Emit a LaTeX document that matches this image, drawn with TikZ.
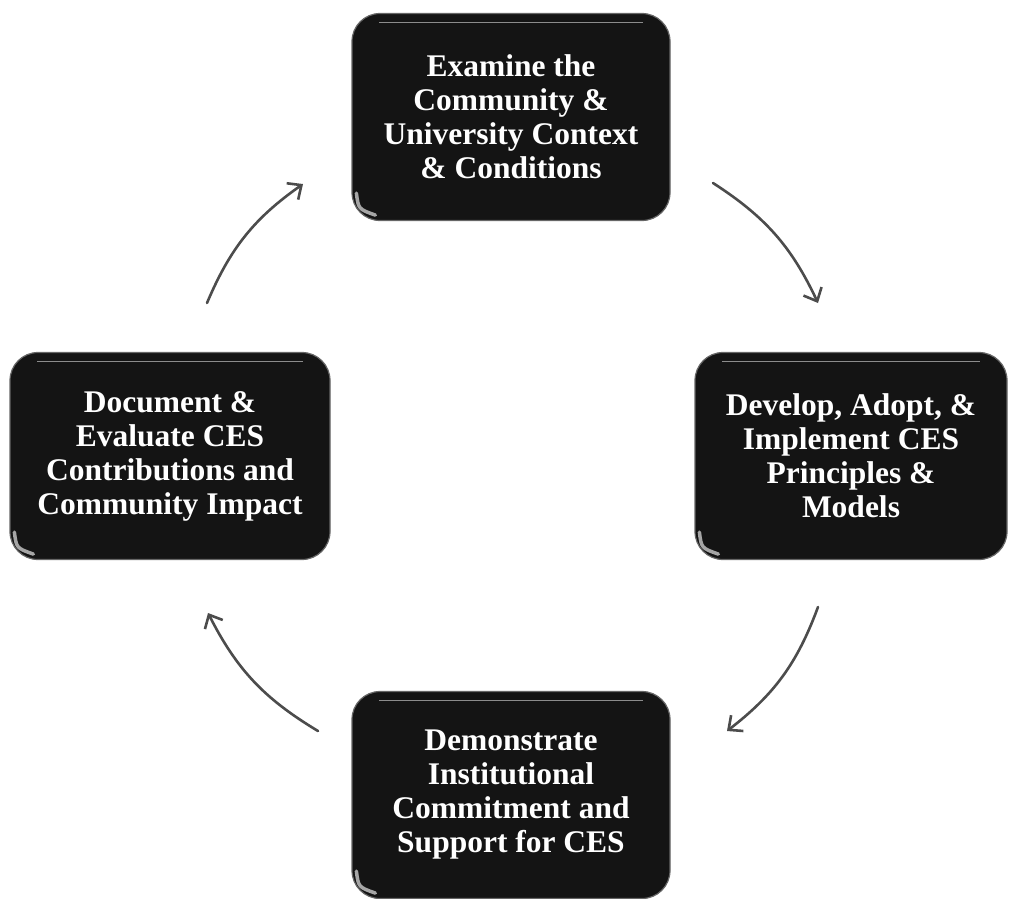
\documentclass[tikz,border=0pt]{standalone}
\usepackage{fontspec}
\setmainfont{Liberation Serif}
\usetikzlibrary{arrows.meta}
\tikzset{
  stagebox/.style={fill=black!92, draw=black!60, line width=1.2pt, rounded corners=28pt,
    text=white, font=\fontsize{31.5}{34}\selectfont\bfseries, align=center, inner sep=0pt},
  cyclearrow/.style={draw=black!70, line width=2.6pt, line cap=round,
    -{Straight Barb[length=11pt,width=20pt,line width=2.6pt]}},
  gloss/.style={draw=black!35, line width=3.5pt, line cap=round},
  rim/.style={draw=black!45, line width=0.8pt}
}
\newcommand{\stage}[5]{%
  % #1 name, #2 x, #3 y, #4 width, #5 text
  \node[stagebox, minimum width=#4pt, minimum height=207pt] (#1) at (#2,#3) {#5};
  % sheen in the lower left corner and faint rim along the top
  \draw[gloss] ([shift={(5pt,28pt)}]#1.south west)
     .. controls ([shift={(7pt,12pt)}]#1.south west) .. ([shift={(24pt,6pt)}]#1.south west);
  \draw[rim] ([shift={(28pt,-9pt)}]#1.north west) -- ([shift={(-28pt,-9pt)}]#1.north east);
}
\begin{document}
\begin{tikzpicture}[x=1pt,y=-1pt]
  \useasboundingbox (0,0) rectangle (1009,898);
  \stage{examine}{511}{117}{318}{Examine the\\Community \&\\University Context\\\& Conditions}
  \stage{develop}{851}{456}{312}{Develop, Adopt, \&\\Implement CES\\Principles \&\\Models}
  \stage{demonstrate}{511}{795}{318}{Demonstrate\\Institutional\\Commitment and\\Support for CES}
  \stage{document}{170}{456}{320}{Document \&\\Evaluate CES\\Contributions and\\Community Impact}

  % free ends of the cycle arrows
  \coordinate (a1s) at (713,183);
  \coordinate (a1e) at (818,303);
  \coordinate (a2s) at (818,607);
  \coordinate (a2e) at (727,731);
  \coordinate (a3s) at (318,731);
  \coordinate (a3e) at (208,613);
  \coordinate (a4s) at (207,303);
  \coordinate (a4e) at (303,184);

  \draw[cyclearrow] (a1s) to[bend left=16] (a1e);
  \draw[cyclearrow] (a2s) to[bend left=16] (a2e);
  \draw[cyclearrow] (a3s) to[bend left=16] (a3e);
  \draw[cyclearrow] (a4s) to[bend left=16] (a4e);
\end{tikzpicture}
\end{document}
